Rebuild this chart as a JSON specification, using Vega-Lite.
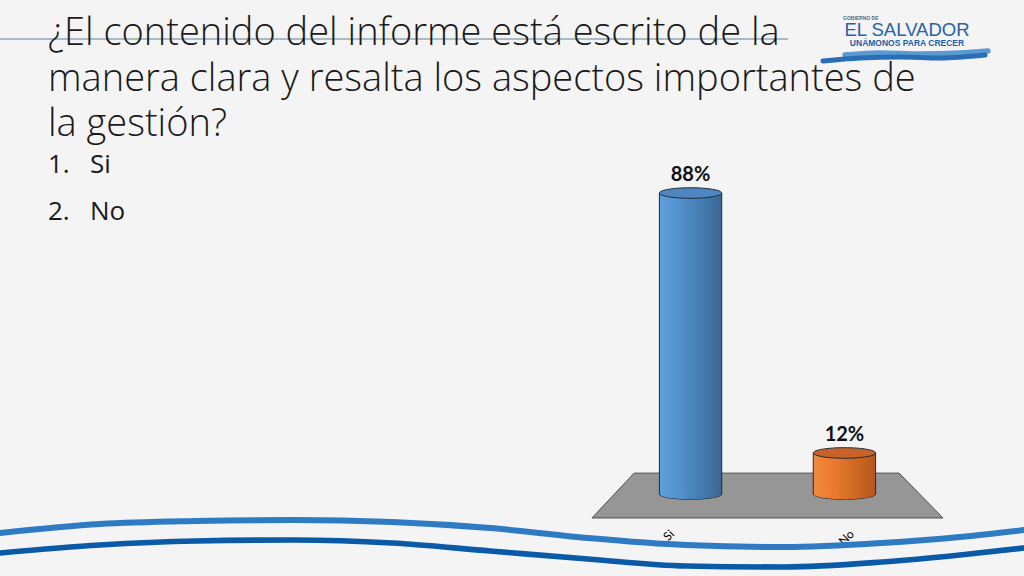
{
  "$schema": "https://vega.github.io/schema/vega-lite/v6.json",
  "width": 976,
  "height": 426,
  "autosize": {"type": "none"},
  "padding": {"left": 48, "top": 150, "right": 0, "bottom": 0},
  "background": "#F4F4F4",
  "config": {"view": {"stroke": null}, "font": "Lato"},
  "title": {
    "text": ["¿El contenido del informe está escrito de la", "manera clara y resalta los aspectos importantes de", "la gestión?"],
    "anchor": "start",
    "frame": "group",
    "font": "Open Sans",
    "fontSize": 38,
    "fontWeight": 300,
    "color": "#1A1A1A",
    "lineHeight": 45.5,
    "offset": 10,
    "dy": 138
  },
  "datasets": {
    "respuestas": [
      {"respuesta": "Si", "porcentaje": 0.88},
      {"respuesta": "No", "porcentaje": 0.12}
    ],
    "piso": [
      {"nivel": -0.07, "izq": 0, "der": 100},
      {"nivel": 0.061, "izq": 12, "der": 87.5}
    ],
    "lista": [
      {"num": "1.", "opcion": "Si"},
      {"num": "2.", "opcion": "No"}
    ],
    "ondas": [
      {"onda": "upper", "x": 0, "y": 533}, {"onda": "upper", "x": 100, "y": 524}, {"onda": "upper", "x": 196, "y": 521}, {"onda": "upper", "x": 294, "y": 520}, {"onda": "upper", "x": 392, "y": 522}, {"onda": "upper", "x": 490, "y": 528}, {"onda": "upper", "x": 588, "y": 538}, {"onda": "upper", "x": 686, "y": 545}, {"onda": "upper", "x": 784, "y": 547}, {"onda": "upper", "x": 882, "y": 543}, {"onda": "upper", "x": 960, "y": 537}, {"onda": "upper", "x": 1024, "y": 530},
      {"onda": "lower", "x": 0, "y": 553}, {"onda": "lower", "x": 100, "y": 545}, {"onda": "lower", "x": 196, "y": 541}, {"onda": "lower", "x": 294, "y": 540}, {"onda": "lower", "x": 392, "y": 543}, {"onda": "lower", "x": 490, "y": 551}, {"onda": "lower", "x": 588, "y": 559}, {"onda": "lower", "x": 686, "y": 566}, {"onda": "lower", "x": 784, "y": 567}, {"onda": "lower", "x": 882, "y": 562}, {"onda": "lower", "x": 960, "y": 555}, {"onda": "lower", "x": 1024, "y": 548},
      {"onda": "logo1", "x": 845, "y": 55}, {"onda": "logo1", "x": 880, "y": 53}, {"onda": "logo1", "x": 920, "y": 54}, {"onda": "logo1", "x": 960, "y": 53}, {"onda": "logo1", "x": 988, "y": 51},
      {"onda": "logo2", "x": 823, "y": 61}, {"onda": "logo2", "x": 860, "y": 58}, {"onda": "logo2", "x": 900, "y": 57}, {"onda": "logo2", "x": 940, "y": 58}, {"onda": "logo2", "x": 985, "y": 55}
    ]
  },
  "layer": [
    {
      "encoding": {
        "x": {"type": "quantitative", "scale": {"domain": [0, 1024], "range": [-48, 976], "nice": false, "zero": false}, "axis": null},
        "y": {"type": "quantitative", "scale": {"domain": [0, 576], "range": [-150, 426], "nice": false, "zero": false}, "axis": null}
      },
      "layer": [
        {
          "data": {"name": "ondas"},
          "mark": {"type": "line", "interpolate": "monotone", "strokeCap": "round"},
          "encoding": {
            "x": {"field": "x", "type": "quantitative"},
            "y": {"field": "y", "type": "quantitative"},
            "detail": {"field": "onda"},
            "color": {"field": "onda", "type": "nominal", "scale": {"domain": ["upper", "lower", "logo1", "logo2"], "range": ["#2E7BC4", "#0B5AA8", "#5A9AD2", "#2A6FB5"]}, "legend": null},
            "strokeWidth": {"field": "onda", "type": "nominal", "scale": {"domain": ["upper", "lower", "logo1", "logo2"], "range": [6, 5, 1, 1.5]}, "legend": null}
          }
        },
        {
          "data": {"values": [{}]},
          "mark": {"type": "rule", "color": "#8FA7B3", "strokeWidth": 1.5},
          "encoding": {"x": {"datum": 0}, "x2": {"datum": 788}, "y": {"datum": 39}}
        },
        {
          "data": {"values": [{"t": "EL SALVADOR"}]},
          "mark": {"type": "text", "align": "center", "baseline": "alphabetic", "font": "Liberation Sans", "fontSize": 18.5, "color": "#2563A8"},
          "encoding": {"text": {"field": "t"}, "x": {"datum": 907}, "y": {"datum": 36}}
        },
        {
          "data": {"values": [{"t": "UNÁMONOS PARA CRECER"}]},
          "mark": {"type": "text", "align": "center", "baseline": "alphabetic", "font": "Liberation Sans", "fontSize": 8.5, "fontWeight": "bold", "color": "#1E5FAA"},
          "encoding": {"text": {"field": "t"}, "x": {"datum": 907}, "y": {"datum": 46}}
        },
        {
          "data": {"values": [{"t": "GOBIERNO DE"}]},
          "mark": {"type": "text", "align": "left", "baseline": "alphabetic", "font": "Liberation Sans", "fontSize": 5, "fontWeight": "bold", "color": "#5A6B80"},
          "encoding": {"text": {"field": "t"}, "x": {"datum": 843}, "y": {"datum": 20}}
        }
      ]
    },
    {
      "data": {"name": "lista"},
      "encoding": {
        "y": {"field": "num", "type": "ordinal", "scale": {"type": "point", "domain": ["1.", "2."], "range": [23, 70], "padding": 0}, "axis": null}
      },
      "layer": [
        {"mark": {"type": "text", "align": "left", "baseline": "alphabetic", "fontSize": 26, "font": "Open Sans", "fontWeight": 400, "color": "#1A1A1A", "x": 0}, "encoding": {"text": {"field": "num"}}},
        {"mark": {"type": "text", "align": "left", "baseline": "alphabetic", "fontSize": 26, "font": "Open Sans", "fontWeight": 400, "color": "#1A1A1A", "x": 42}, "encoding": {"text": {"field": "opcion"}}}
      ]
    },
    {
      "data": {"name": "piso"},
      "mark": {"type": "area", "orient": "horizontal", "interpolate": "linear", "color": "#969696", "stroke": "#4A4A4A", "strokeWidth": 1},
      "encoding": {
        "y": {"field": "nivel", "type": "quantitative", "scale": {"domain": [-0.1, 1], "range": [378.2, 2], "nice": false, "zero": false}, "axis": null},
        "x": {"field": "izq", "type": "quantitative", "scale": {"domain": [0, 100], "range": [544, 895], "nice": false, "zero": false}, "axis": null},
        "x2": {"field": "der"}
      }
    },
    {
      "data": {"name": "respuestas"},
      "encoding": {
        "x": {
          "field": "respuesta", "type": "nominal", "sort": ["Si", "No"],
          "scale": {"range": [544, 895], "paddingInner": 0.595, "paddingOuter": 0.438},
          "axis": {"title": null, "domain": false, "ticks": false, "grid": false, "labelAngle": -45, "labelFont": "Lato", "labelFontSize": 12, "labelColor": "#000000", "offset": -50, "labelPadding": 2,
            "labelOffset": {"condition": {"test": "datum.value === 'Si'", "value": -22}, "value": 4}}
        },
        "y": {"field": "porcentaje", "type": "quantitative", "scale": {"domain": [-0.1, 1], "range": [378.2, 2], "nice": false, "zero": false}, "axis": null}
      },
      "layer": [
        {
          "mark": {"type": "point", "shape": "M-1,0A1,0.17,0,1,1,1,0A1,0.17,0,1,1,-1,0Z", "size": 3880, "filled": true, "opacity": 1, "stroke": "#1E2A36", "strokeWidth": 1},
          "encoding": {
            "y": {"datum": 0},
            "fill": {"condition": {"test": "datum.respuesta === 'Si'", "value": {"gradient": "linear", "x1": 0, "y1": 0, "x2": 1, "y2": 0, "stops": [{"offset": 0, "color": "#5FA0DC"}, {"offset": 0.35, "color": "#5090CC"}, {"offset": 1, "color": "#3A6894"}]}},
              "value": {"gradient": "linear", "x1": 0, "y1": 0, "x2": 1, "y2": 0, "stops": [{"offset": 0, "color": "#F28A3E"}, {"offset": 0.35, "color": "#E97A2E"}, {"offset": 1, "color": "#B5561B"}]}}
          }
        },
        {
          "mark": {"type": "bar", "stroke": "#1E2A36", "strokeWidth": 1},
          "encoding": {
            "y2": {"datum": 0},
            "fill": {"condition": {"test": "datum.respuesta === 'Si'", "value": {"gradient": "linear", "x1": 0, "y1": 0, "x2": 1, "y2": 0, "stops": [{"offset": 0, "color": "#5FA0DC"}, {"offset": 0.35, "color": "#5090CC"}, {"offset": 1, "color": "#3A6894"}]}},
              "value": {"gradient": "linear", "x1": 0, "y1": 0, "x2": 1, "y2": 0, "stops": [{"offset": 0, "color": "#F28A3E"}, {"offset": 0.35, "color": "#E97A2E"}, {"offset": 1, "color": "#B5561B"}]}}
          }
        },
        {
          "mark": {"type": "point", "shape": "M-1,0A1,0.17,0,1,1,1,0A1,0.17,0,1,1,-1,0Z", "size": 3780, "filled": true, "opacity": 1, "strokeWidth": 0},
          "encoding": {
            "y": {"datum": 0},
            "fill": {"condition": {"test": "datum.respuesta === 'Si'", "value": {"gradient": "linear", "x1": 0, "y1": 0, "x2": 1, "y2": 0, "stops": [{"offset": 0, "color": "#5FA0DC"}, {"offset": 0.35, "color": "#5090CC"}, {"offset": 1, "color": "#3A6894"}]}},
              "value": {"gradient": "linear", "x1": 0, "y1": 0, "x2": 1, "y2": 0, "stops": [{"offset": 0, "color": "#F28A3E"}, {"offset": 0.35, "color": "#E97A2E"}, {"offset": 1, "color": "#B5561B"}]}}
          }
        },
        {
          "mark": {"type": "point", "shape": "M-1,0A1,0.17,0,1,1,1,0A1,0.17,0,1,1,-1,0Z", "size": 3880, "filled": true, "opacity": 1, "stroke": "#1E2A36", "strokeWidth": 1},
          "encoding": {
            "fill": {"condition": {"test": "datum.respuesta === 'Si'", "value": "#4E87BF"}, "value": "#C7632A"}
          }
        },
        {
          "mark": {"type": "text", "baseline": "bottom", "dy": -8, "fontSize": 20, "fontWeight": "bold", "font": "Lato", "color": "#111111"},
          "encoding": {"text": {"field": "porcentaje", "type": "quantitative", "format": ".0%"}}
        }
      ]
    }
  ],
  "resolve": {"scale": {"x": "independent", "y": "independent", "color": "independent", "strokeWidth": "independent"}}
}
